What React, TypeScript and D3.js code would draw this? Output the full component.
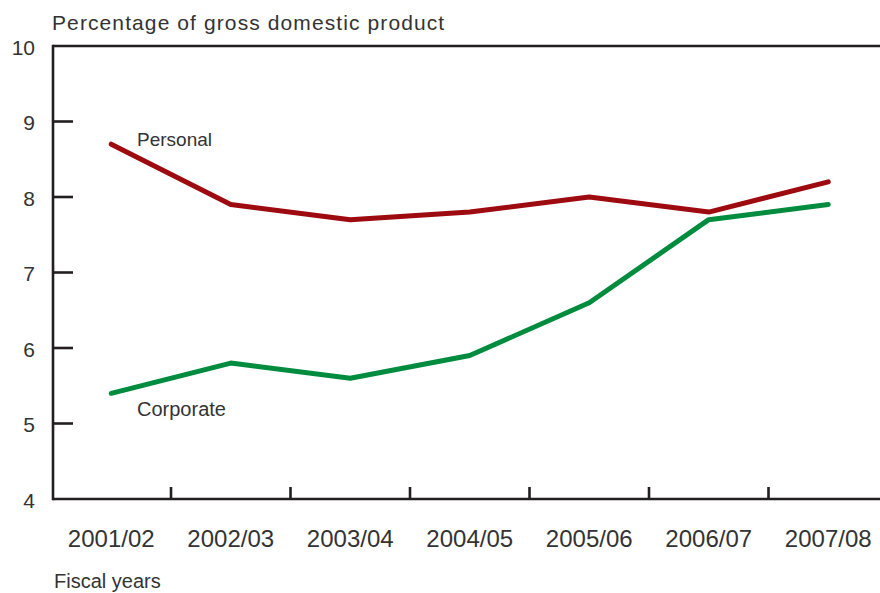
import React from "react";
import * as d3 from "d3";

const categories = ["2001/02", "2002/03", "2003/04", "2004/05", "2005/06", "2006/07", "2007/08"];
const personal = [8.7, 7.9, 7.7, 7.8, 8.0, 7.8, 8.2];
const corporate = [5.4, 5.8, 5.6, 5.9, 6.6, 7.7, 7.9];
const yTicks = [4, 5, 6, 7, 8, 9, 10];

const W = 880;
const H = 593;
const FONT = "'Liberation Sans', Arial, Helvetica, sans-serif";
const TXT = "#333333";
const AX = "#231f20";

export default function App() {
  const x = d3.scaleBand<string>().domain(categories).range([51.5, 888]).paddingInner(0).paddingOuter(0);
  const y = d3.scaleLinear().domain([4, 10]).range([499, 46]);
  const cx = (c: string) => (x(c) as number) + x.bandwidth() / 2;
  const line = d3
    .line<number>()
    .x((_, i) => cx(categories[i]))
    .y((d) => y(d));
  const left = 53;
  const bottom = y(4);
  const top = y(10);

  return (
    <svg width={W} height={H} style={{ position: "absolute", left: 0, top: 0, background: "#fff" }}>
      <rect x={0} y={0} width={W} height={H} fill="#fff" />
      <text x={52} y={30} fontFamily={FONT} fontSize={21} fill={TXT} letterSpacing={1.1}>
        Percentage of gross domestic product
      </text>
      {/* frame */}
      <line x1={left} x2={W} y1={top} y2={top} stroke={AX} strokeWidth={2.6} />
      <line x1={left} x2={W} y1={bottom} y2={bottom} stroke={AX} strokeWidth={2.6} />
      <line x1={left} x2={left} y1={top - 1.3} y2={bottom + 1.3} stroke={AX} strokeWidth={2.6} />
      {/* y ticks */}
      {yTicks.map((t) => (
        <g key={t}>
          {t !== 4 && t !== 10 && (
            <line x1={left} x2={left + 20} y1={y(t)} y2={y(t)} stroke={AX} strokeWidth={2.6} />
          )}
          <text x={35} y={y(t) + 8.5} textAnchor="end" fontFamily={FONT} fontSize={21} fill={TXT}>
            {t}
          </text>
        </g>
      ))}
      {/* x ticks */}
      {categories.slice(1).map((c) => (
        <line key={c} x1={x(c) as number} x2={x(c) as number} y1={bottom} y2={bottom - 12} stroke={AX} strokeWidth={2.6} />
      ))}
      {categories.map((c) => (
        <text key={c} x={cx(c)} y={546.5} textAnchor="middle" fontFamily={FONT} fontSize={24} fill={TXT}>
          {c}
        </text>
      ))}
      <text x={54} y={588} fontFamily={FONT} fontSize={20} fill={TXT}>
        Fiscal years
      </text>
      {/* lines */}
      <path d={line(personal) as string} fill="none" stroke="#9d0a10" strokeWidth={5} strokeLinejoin="round" strokeLinecap="round" />
      <path d={line(corporate) as string} fill="none" stroke="#008c3f" strokeWidth={5} strokeLinejoin="round" strokeLinecap="round" />
      <text x={137} y={146} fontFamily={FONT} fontSize={19} fill={TXT}>
        Personal
      </text>
      <text x={137} y={416} fontFamily={FONT} fontSize={20} fill={TXT}>
        Corporate
      </text>
    </svg>
  );
}
